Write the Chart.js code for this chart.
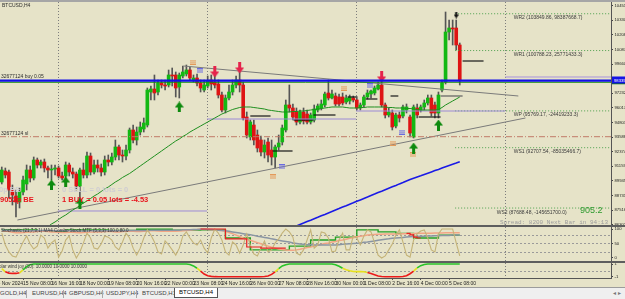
<!DOCTYPE html>
<html>
<head>
<meta charset="utf-8">
<title>BTCUSD,H4</title>
<script src="https://cdn.jsdelivr.net/npm/chart.js@4.4.1/dist/chart.umd.min.js"></script>
<style>
  html, body { margin:0; padding:0; overflow:hidden; width:625px; height:299px; background:#e6e3c8; }
  canvas { position:absolute; left:0; }
  #topbar { position:absolute; left:0; top:0; width:625px; height:2px; background:#a6a6a6; }
  .rule { position:absolute; left:0; width:625px; height:2px; background:#5e5e5e; }
  #tabs { position:absolute; left:0; top:287px; width:625px; height:12px; background:#efefef; border-top:1px solid #9c9c9c;
          font:6px "Liberation Sans", Arial, sans-serif; color:#444; }
  #tabs span { position:absolute; top:2px; white-space:nowrap; }
  #tabs b { position:absolute; top:2px; width:1px; height:8px; background:#a8a8a8; }
  #tabs .on { top:0; height:9px; padding:0 4px; background:#fff; border:1px solid #555; border-top:none; color:#000; line-height:9px; }
  #scroll { position:absolute; left:613px; top:289px; font:6px "DejaVu Sans", sans-serif; color:#777; letter-spacing:2px; }
</style>
</head>
<body>
<div id="topbar"></div>
<canvas id="main" width="660" height="224" style="top:2px"></canvas>
<canvas id="stoch" width="660" height="35" style="top:227px"></canvas>
<canvas id="solar" width="660" height="24" style="top:263px"></canvas>
<div class="rule" style="top:225px"></div>
<div class="rule" style="top:261px"></div>
<div id="tabs">
  <span style="left:0px">GOLD,H4</span><b style="left:26px"></b>
  <span style="left:32px">EURUSD,H4</span><b style="left:63px"></b>
  <span style="left:69px">GBPUSD,H4</span><b style="left:102px"></b>
  <span style="left:106px">USDJPY,H4</span><b style="left:136px"></b>
  <span style="left:142px">BTCUSD,H1</span>
  <span class="on" style="left:174px">BTCUSD,H4</span>
</div>
<div id="scroll">&#9666;&#9656;</div>
<script>
// H4 bars, bar 0 = 14 Nov 2024 08:00
const openP = [89855,90769,90686,89189,88690,88191,89023,89688,90852,90187,
  91684,91268,91518,91018,90852,90935,91018,90353,90353,91268,
  90686,90519,89522,90852,90436,92017,90686,91268,91018,90686,
  91684,91518,91934,92765,92100,92017,92516,94180,93348,94013,
  94262,94595,97341,97590,97341,98089,97923,97923,98755,98755,
  97757,98672,98838,99171,98339,98505,98089,97507,97840,98339,
  98173,98006,97091,95843,96842,97341,97923,98339,97923,95261,
  93597,94595,93763,93348,92350,93181,92516,91934,92765,93181,
  94180,96259,96010,95677,94845,95677,95510,94845,95011,95843,
  96010,96259,97258,96842,97008,96925,96925,96509,96592,96842,
  96675,96010,96259,96925,97174,97258,97590,97923,96259,95427,
  95594,94512,95427,95344,95843,95261,93597,96010,95843,96093,
  96426,96842,96259,95594,97507,98173,102331,102664,102664,101250];
const highP = [91102,91018,90852,89605,89189,89355,90353,91268,91185,91934,
  91850,91684,91767,91185,91268,91268,91185,90686,91518,91434,
  91018,90686,91018,91434,92350,92266,91684,91684,91351,92017,
  92100,92266,93348,92932,92516,92932,94346,94595,94429,94845,
  95178,97673,97840,98755,98339,98339,98339,99171,99337,99005,
  98921,99503,99586,99420,98755,98838,98339,98339,98672,98755,
  99005,98339,97341,97091,97923,98339,98672,99171,98173,95677,
  95011,95011,94180,93680,93348,93514,93348,92932,93763,94595,
  96675,97923,96342,96010,95843,96010,95843,95594,96259,96342,
  96675,97341,98339,97507,97258,97174,97258,97091,97091,97008,
  96842,96426,97091,97507,97507,97840,98173,98589,96426,96010,
  95843,95594,95677,96259,96342,95427,96259,96342,96259,96675,
  97091,97091,96509,97341,98339,103995,103329,103329,103329,101416];
const lowP = [89688,90187,88524,87941,86943,87691,88773,89189,89855,90021,
  91018,91018,90686,90187,90021,90436,90187,90021,90021,90353,
  90187,89189,88357,90187,90187,90436,90519,90686,90353,90436,
  91185,91268,91684,91684,91518,91684,92266,93098,92932,93763,
  94013,94429,96675,96675,97091,97673,97507,97757,97840,96925,
  96842,98505,98672,98339,98173,97840,97341,97341,97673,97507,
  97673,96842,95677,95594,96675,97091,97673,97341,95011,93514,
  93348,92932,92350,92017,91850,91518,91268,91018,92516,92932,
  94013,95677,95011,94595,94678,94678,94678,94678,94845,95677,
  95843,96093,96675,96758,96176,96176,96259,96342,96342,96509,
  95843,95843,96093,96758,96842,97091,97507,96093,95178,95261,
  94180,94346,94845,95178,95594,93597,93514,95178,95677,95843,
  96259,95344,95178,95178,97341,98006,101666,101250,100834,97923];
const closeP = [90852,90436,89189,88773,88191,89023,90021,90852,90187,91684,
  91268,91518,91018,90852,90935,91018,90353,90187,91268,90686,
  90519,89522,90852,90436,92017,90686,91268,91018,90686,91684,
  91518,91934,92765,92100,92017,92516,94180,93348,94013,94429,
  94762,97507,97590,97258,98089,97923,97840,98755,98672,97673,
  98755,99005,99171,98505,98505,98089,97673,97923,98256,98006,
  97923,97091,95843,96842,97341,97923,98339,97923,95178,93763,
  94845,93348,92682,92350,92932,92100,91934,92765,93098,94346,
  96259,96010,95261,94845,95677,94928,94845,95427,95926,96176,
  96342,97174,96842,97174,96342,96342,96426,96842,96925,96675,
  96010,96259,96925,97258,97424,97673,97923,96259,95427,95677,
  94429,95427,95178,96093,96093,93930,96093,95427,96093,96426,
  96842,95594,95594,97091,98089,102331,102664,102581,101250,98339];

const maGreenStart = 13;
const maGreen = [86136,86361,86527,86735,86943,87109,87317,87525,87692,87899,
  88107,88274,88482,88690,88856,89064,89272,89438,89646,89854,
  90021,90229,90395,90561,90769,90977,91185,91393,91601,91809,
  92017,92225,92433,92641,92849,93057,93265,93431,93639,93805,
  94013,94180,94346,94512,94679,94845,95011,95178,95344,95510,
  95635,95760,95885,95968,96051,96093,96093,96093,96051,96010,
  95968,95926,95843,95802,95760,95718,95677,95677,95677,95718,
  95718,95760,95760,95802,95843,95885,95926,95968,96010,96051,
  96093,96093,96093,96093,96051,96010,96010,96010,96051,96051,
  96093,96093,96093,96093,96093,96093,96051,96051,96010,96010,
  96010,95968,95968,95926,95885,95843,95843,95843,95843,95843,
  95885,96051,96259,96425,96592,96758,96925];
const maBlueStart = 82;
const maBlue = [86070,86194,86319,86436,86561,86677,86802,86918,87043,87159,87284,
  87401,87525,87642,87767,87883,88008,88124,88249,88366,88490,
  88607,88732,88848,88973,89089,89214,89331,89455,89572,89697,
  89813,89938,90054,90162,90270,90370,90478,90586,90695,90803,
  90902,91011,91119,91227,91335,91435,91543];

const stochK = [86,45,21,7,3,28,55,76,48,31, 41,79,69,34,52,62,3,24,62,76,
  28,0,21,52,86,69,34,31,48,76, 72,62,38,28,55,86,69,34,10,34,
  69,97,79,55,21,14,59,45,28,10, 34,76,90,69,52,45,62,34,17,69,
  100,86,62,21,10,55,45,17,45,83, 45,14,7,34,59,21,28,52,66,86,
  100,90,72,17,10,28,62,97,34,45, 90,86,69,21,24,62,86,28,28,76,
  69,45,76,97,90,52,10,0,7,28, 48,79,97,55,10,3,62,83,93,97,
  69,28,21,83,100,100,100,100,52,7];
const stochFast = [94,93,91,89,87,87,88,89,90,90, 91,92,92,91,90,90,89,88,88,89,
  89,88,87,88,89,90,90,90,90,91, 91,91,90,90,91,92,92,92,91,91,
  92,93,94,94,93,92,92,92,92,92, 93,94,95,96,97,98,100,99,98,97,
  96,96,95,92,88,84,79,74,69,65, 61,57,53,49,45,41,37,34,31,29,
  28,27,27,28,30,33,36,38,41,44, 47,50,52,55,57,60,62,65,68,70,
  73,75,77,79,80,81,82,82,83,83, 83,83,83,84,84,84,84,85,85,85,
  85,85,86,86,86,87,87,87,87,87];
const stochSlow = [96,96,95,95,94,94,94,94,94,94, 95,95,95,95,95,94,94,94,94,94,
  94,94,93,93,93,94,94,94,94,94, 94,94,94,94,94,95,95,95,95,95,
  95,95,96,96,96,96,96,96,96,96, 96,97,97,97,98,98,99,99,98,98,
  97,96,95,94,92,90,88,86,84,82, 80,78,75,73,71,69,66,64,61,59,
  57,55,52,50,48,47,46,46,45,45, 45,45,45,45,45,46,47,48,49,50,
  51,52,54,55,57,59,61,63,65,66, 68,69,70,71,72,73,74,74,75,75,
  76,76,77,77,78,78,78,79,79,79];
const stochStep = [97,97,97,97,97,97,97,97,97,97, 92,92,92,92,92,92,92,92,97,97,
  97,97,97,97,97,97,97,97,97,97, 95,95,95,95,95,95,95,95,99,99,
  99,99,99,99,99,99,99,99,96,96, 96,96,96,96,96,96,97,97,97,97,
  97,97,97,69,69,69,69,69,69,69, 28,28,28,28,28,28,28,28,28,28,
  28,41,41,41,41,41,41,62,62,62, 62,62,62,62,72,72,72,72,72,72,
  97,97,97,97,97,97,90,90,90,90, 90,85,85,85,85,85,69,69,69,69,
  69,69,69,79,79,79,79,79,79,79];
const stochRedAStart = 56;
const stochRedA = [100,100,100,100,100,100,100,66,66,66,66,66,66,38,38,38,38,34,34,34,34,34,34,34,34];
const stochRedBStart = 114;
const stochRedB = [85,80,72,69,69];

const solar = [0.3,-0.2,-0.4,-0.45,-0.45,-0.35,0.1,0.6,0.9,1, 1,1,1,1,1,1,1,1,1,1,
  1,1,1,1,1,1,1,1,1,1, 1,1,1,1,1,1,1,1,1,1, 1,1,1,1,1,1,1,1,1,1,
  1,1,1,0.92,0.7,0.35,-0.1,-0.55,-0.8,-0.9, -0.95,-0.97,-0.97,-0.97,-0.97,-0.97,-0.97,-0.97,-0.97,-0.97,
  -0.97,-0.97,-0.97,-0.97,-0.93,-0.85,-0.6,-0.2,0.3,0.7, 0.9,1,1,1,1,1,1,1,1,1,
  1,1,1,1,0.9,0.65,0.35,0.1,-0.05,-0.15, -0.18,-0.18,-0.2,-0.3,-0.45,-0.65,-0.85,-0.93,-0.97,-0.97,
  -0.97,-0.97,-0.97,-0.92,-0.8,-0.5,-0.1,0.4,0.75,0.92, 1,1,1,1,1,1,1,1,1,1];

const priceTicks = [86302,87516,88731,89945,91159,92374,93588,94803,96017,97232,98446,99660,100875,102089,103304,104518];
const stochTicks = [0,20,50,80,100];
const stochLevels = [20,50,80];
const solarTicks = [-1,0,1];
const xTickIdx = [-2,6,14,22,30,38,46,54,62,70,78,86,94,102,110,118,126];
const xTickText = ['14 Nov 2024','15 Nov 08:00','16 Nov 16:00','18 Nov 00:00','19 Nov 08:00','20 Nov 16:00',
  '22 Nov 00:00','23 Nov 08:00','24 Nov 16:00','26 Nov 00:00','27 Nov 08:00','28 Nov 16:00',
  '30 Nov 00:00','1 Dec 08:00','2 Dec 16:00','4 Dec 00:00','5 Dec 08:00'];
const weekSep = [15.8,57.8,99.8,141.8];

// levels and objects on the price chart
const ticket = '32677124';
const posPrice = 98290, bidPrice = 98150, slPrice = 93622, wpUpper = 98589;
const pivotNames = ['WR2','WR1','WP','WS1','WS2'];
const pivotVals = [103849.86,100788.23,95769.17,92707.54,87688.48];
const pivotAux = ['98387668.7','25771433.3','-24419233.3','-85035466.7','-145651700.0'];
const pivotFrom = 127.7, pivotLabelAt = 144.2;
const weekPivot = [87442,95094,95760];
const trendA = [[4.4,86693],[147.5,95178]];
const trendB = [[51.2,99503],[145.5,97008]];
const boxLines = [[70,75.7,95344],[76.3,81.9,92433],[82.2,87.8,95011],[87.8,94,95427],[97.4,100.2,96925],
  [102.5,105.8,96758],[109.5,111.7,97008],[117.4,123.6,95261],[129.8,135.7,99919]];
const greyBox = [[123.6,129.8,97008]];
const upArrows = [[14,89605],[18,89855],[22,88107],[50,96093],[116,92682],[123,94595]];
const downArrows = [[60,99005],[67,99337],[107,98589]];
const blackArrows = [[128,103745]];
const orangeMarks = [[54,99836],[96.3,97673],[110.3,93098],[76.5,90270],[115.7,92100]];
const blueMarks = [[55.7,99088],[103.6,97840],[112.6,94013],[78.8,91102]];

const N = closeP.length;
const xMin = -0.5, xMax = 171.6;
const AXW = 49;
Chart.defaults.font.family = '"Liberation Sans", Arial, sans-serif';

function pts(arr, start) { return arr.map((v, k) => ({ x: start + k, y: v })); }
function seg(x0, x1, y) { return [{ x: x0, y: y }, { x: x1, y: y }]; }
function lineDs(data, color, width, extra) {
  return Object.assign({ type: 'line', data: data, borderColor: color, borderWidth: width, pointRadius: 0,
    pointHitRadius: 0, tension: 0, fill: false, order: 1 }, extra || {});
}
function arrowImg(color, down, w, h) {
  const c = document.createElement('canvas'); c.width = w; c.height = h;
  const g = c.getContext('2d');
  if (down) { g.translate(0, h); g.scale(1, -1); }
  const hh = Math.round(h * 0.5), sw = Math.max(1, Math.round(w / 3));
  g.fillStyle = color; g.beginPath();
  g.moveTo(w / 2, 0); g.lineTo(w, hh); g.lineTo((w + sw) / 2, hh); g.lineTo((w + sw) / 2, h);
  g.lineTo((w - sw) / 2, h); g.lineTo((w - sw) / 2, hh); g.lineTo(0, hh); g.closePath(); g.fill();
  return c;
}
function markImg(color) {
  const c = document.createElement('canvas'); c.width = 6; c.height = 5;
  const g = c.getContext('2d'); g.fillStyle = color;
  g.fillRect(0, 0, 6, 1); g.fillRect(0, 2, 6, 1); g.fillRect(0, 4, 6, 1);
  return c;
}
function fitY(s) { s.width = AXW; s.paddingTop = 0; s.paddingBottom = 0; }
const xHidden = { type: 'linear', min: xMin, max: xMax, offset: false, display: false };

function separators(id) {
  return { id: id, beforeDatasetsDraw(c) {
    const { ctx, chartArea: a, scales: { x } } = c;
    ctx.save(); ctx.strokeStyle = '#7d7d7d'; ctx.lineWidth = 1; ctx.setLineDash([1, 2]);
    weekSep.forEach(v => { const px = Math.round(x.getPixelForValue(v)) + 0.5;
      ctx.beginPath(); ctx.moveTo(px, a.top); ctx.lineTo(px, a.bottom); ctx.stroke(); });
    ctx.restore();
  } };
}
function levels(id, vals) {
  return { id: id, beforeDatasetsDraw(c) {
    const { ctx, chartArea: a, scales: { y } } = c;
    ctx.save(); ctx.strokeStyle = '#9a9a9a'; ctx.lineWidth = 1; ctx.setLineDash([2, 2]);
    vals.forEach(v => { const py = Math.round(y.getPixelForValue(v)) + 0.5;
      ctx.beginPath(); ctx.moveTo(a.left, py); ctx.lineTo(a.right, py); ctx.stroke(); });
    ctx.restore();
  } };
}

const mainText = {
  id: 'mainText',
  afterDatasetsDraw(c) {
    const { ctx, chartArea: a, scales: { x, y } } = c;
    ctx.save();
    ctx.font = '5px "Liberation Sans", Arial'; ctx.fillStyle = '#2c2c2c'; ctx.textBaseline = 'alphabetic';
    ctx.fillText('BTCUSD,H4', 2, 5);
    ctx.fillText(ticket + ' buy 0.05', 1, y.getPixelForValue(posPrice) - 2.5);
    ctx.fillText(ticket + ' sl', 1, y.getPixelForValue(slPrice) - 2);
    ctx.fillStyle = '#3a3a3a';
    pivotNames.forEach((n, k) => {
      const px = x.getPixelForValue(n === 'WS2' ? pivotLabelAt - 4.8 : pivotLabelAt);
      ctx.fillText(n + ' (' + pivotVals[k].toFixed(2) + ', ' + pivotAux[k] + ')', px, y.getPixelForValue(pivotVals[k]) + 5.5);
    });
    ctx.font = 'bold 7.5px "Liberation Sans", Arial';
    ctx.fillStyle = '#cfcdd2';
    ctx.fillText('0p BE', -1, 190);
    ctx.fillText('0 SELL = 0 lots = 0', 62, 190);
    ctx.fillStyle = '#e8141c';
    ctx.fillText('9052p BE', 0, 199.5);
    ctx.fillText('1 BUY = 0.05 lots = -4.53', 62, 199.5);
    ctx.font = '9px "Liberation Sans", Arial'; ctx.fillStyle = '#2e9a2e';
    ctx.fillText('905.2', 580, 210.5);
    ctx.font = '6px "Liberation Mono", monospace'; ctx.fillStyle = '#9c9c9c';
    ctx.fillText('Spread: 8200 Next Bar in 94:13', 500, 222);
    ctx.restore();
  },
  afterDraw(c) {
    const { ctx, chartArea: a, scales: { y } } = c;
    ctx.save();
    const yb = y.getPixelForValue(bidPrice);
    ctx.fillStyle = '#0b7a0b'; ctx.fillRect(a.right + 1, yb - 1, AXW, 3);
    const yp = y.getPixelForValue(closeP[N - 1]);
    ctx.fillStyle = '#1414e6'; ctx.fillRect(a.right + 1, yp - 3.5, AXW, 7);
    ctx.fillStyle = '#ffffff'; ctx.font = '4.2px "Liberation Sans", Arial'; ctx.textBaseline = 'middle';
    ctx.fillText(closeP[N - 1].toFixed(2), a.right + 3, yp + 0.5);
    ctx.restore();
  }
};

const candleUp = '#13b813', candleDown = '#de1414';
const mainSets = [
  lineDs(pts(maGreen, maGreenStart), '#1e8f1e', 1),
  lineDs(pts(maBlue, maBlueStart), '#1a1ae6', 1.6),
  lineDs(seg(xMin, xMax, posPrice), '#1010e8', 2.2, { order: 0 }),
  lineDs(seg(xMin, xMax, bidPrice), '#148a14', 1, { order: 0 }),
  lineDs(seg(xMin, xMax, slPrice), '#c07a68', 1, { borderDash: [6, 2, 1, 2] }),
  lineDs(seg(141.8, xMax, wpUpper), '#a793dc', 1),
  lineDs(seg(15.8, 57.8, weekPivot[0]), '#9c8ad6', 1),
  lineDs(seg(57.8, 99.8, weekPivot[1]), '#9c8ad6', 1),
  lineDs(seg(99.8, 141.8, weekPivot[2]), '#9c8ad6', 1),
  lineDs(trendA.map(p => ({ x: p[0], y: p[1] })), '#7a7a7a', 1),
  lineDs(trendB.map(p => ({ x: p[0], y: p[1] })), '#7a7a7a', 1)
];
pivotVals.forEach(v => mainSets.push(lineDs(seg(pivotFrom, xMax, v), '#4da04d', 1, { borderDash: [1, 2] })));
boxLines.forEach(b => mainSets.push(lineDs(seg(b[0], b[1], b[2]), '#161616', 1.2)));
greyBox.forEach(b => mainSets.push(lineDs(seg(b[0], b[1], b[2]), '#5e5e5e', 1.2)));
mainSets.push({ type: 'scatter', data: upArrows.map(p => ({ x: p[0], y: p[1] })), pointStyle: arrowImg('#0e8a0e', false, 9, 11), order: 0 });
mainSets.push({ type: 'scatter', data: downArrows.map(p => ({ x: p[0], y: p[1] })), pointStyle: arrowImg('#e5234b', true, 9, 11), order: 0 });
mainSets.push({ type: 'scatter', data: blackArrows.map(p => ({ x: p[0], y: p[1] })), pointStyle: arrowImg('#111111', true, 5, 7), order: 0 });
mainSets.push({ type: 'scatter', data: orangeMarks.map(p => ({ x: p[0], y: p[1] })), pointStyle: markImg('#e49a5a'), order: 0 });
mainSets.push({ type: 'scatter', data: blueMarks.map(p => ({ x: p[0], y: p[1] })), pointStyle: markImg('#6a6ae0'), order: 0 });
mainSets.push({ type: 'bar', data: lowP.map((l, i) => ({ x: i, y: [l, highP[i]] })), backgroundColor: '#555555',
  barThickness: 1, grouped: false, order: 3 });
mainSets.push({ type: 'bar', data: openP.map((o, i) => ({ x: i, y: [o, closeP[i]] })),
  backgroundColor: openP.map((o, i) => closeP[i] >= o ? candleUp : candleDown),
  barThickness: 3, minBarLength: 1, grouped: false, order: 2 });

new Chart(document.getElementById('main'), {
  type: 'bar',
  data: { datasets: mainSets },
  options: {
    responsive: false, animation: false, devicePixelRatio: 1,
    layout: { padding: 0, autoPadding: false },
    plugins: { legend: { display: false }, tooltip: { enabled: false } },
    scales: {
      x: xHidden,
      y: { position: 'right', min: 86194, max: 104827, afterFit: fitY,
        afterBuildTicks: s => { s.ticks = priceTicks.map(v => ({ value: v })); },
        ticks: { font: { size: 4.2 }, color: '#222', padding: 1.5, callback: v => v.toFixed(2) },
        grid: { drawOnChartArea: false, tickLength: 2, color: '#444' },
        border: { display: true, color: '#555' } }
    }
  },
  plugins: [separators('sepMain'), mainText]
});

new Chart(document.getElementById('stoch'), {
  type: 'line',
  data: { datasets: [
    lineDs(pts(stochK, 0), '#c4b377', 1.1),
    lineDs(pts(stochSlow, 0), '#8a95a2', 1.5),
    lineDs(pts(stochFast, 0), '#f2a584', 1.5),
    lineDs(pts(stochStep, 0), '#24a024', 1.4, { stepped: true }),
    lineDs(pts(stochRedA, stochRedAStart), '#e82020', 1.2, { stepped: true, order: 0 }),
    lineDs(pts(stochRedB, stochRedBStart), '#e82020', 1.2, { stepped: true, order: 0 })
  ] },
  options: {
    responsive: false, animation: false, devicePixelRatio: 1,
    layout: { padding: 0, autoPadding: false },
    plugins: { legend: { display: false }, tooltip: { enabled: false } },
    scales: {
      x: xHidden,
      y: { position: 'right', min: -13.8, max: 106.9, afterFit: fitY,
        afterBuildTicks: s => { s.ticks = stochTicks.map(v => ({ value: v })); },
        ticks: { font: { size: 4.2 }, color: '#222', padding: 1.5 },
        grid: { drawOnChartArea: false, tickLength: 2, color: '#444' },
        border: { display: true, color: '#555' } }
    }
  },
  plugins: [separators('sepStoch'), levels('lvStoch', stochLevels), { id: 'stLabel', afterDatasetsDraw(c) {
    const ctx = c.ctx; ctx.save(); ctx.font = '4.5px "Liberation Sans", Arial'; ctx.fillStyle = '#333';
    ctx.fillText('Stochastic (21,7,3,1) MA4 Combo Stoch MTF (5,3,3) 100.0 80.0', 1, 5); ctx.restore(); } }]
});

new Chart(document.getElementById('solar'), {
  type: 'line',
  data: { datasets: [
    lineDs(pts(solar, 0), '#22c022', 1.6, { segment: { borderColor: s => {
      const v = (s.p0.parsed.y + s.p1.parsed.y) / 2;
      return v > 0.25 ? '#28c428' : (v < -0.25 ? '#ec1a1a' : '#e6e01e'); } } })
  ] },
  options: {
    responsive: false, animation: false, devicePixelRatio: 1,
    layout: { padding: 0, autoPadding: false },
    plugins: { legend: { display: false }, tooltip: { enabled: false } },
    scales: {
      x: { type: 'linear', min: xMin, max: xMax, offset: false, position: 'bottom',
        afterBuildTicks: s => { s.ticks = xTickIdx.map(v => ({ value: v })); },
        afterFit: s => { s.height = 9; s.paddingLeft = 0; s.paddingRight = 0; },
        ticks: { autoSkip: false, maxRotation: 0, minRotation: 0, align: 'start', padding: 1,
          font: { size: 5 }, color: '#1e1e1e', callback: (v, i) => xTickText[i] },
        grid: { drawOnChartArea: false, tickLength: 2, color: '#555' },
        border: { display: true, color: '#555' } },
      y: { position: 'right', min: -1.154, max: 1.154, afterFit: fitY,
        afterBuildTicks: s => { s.ticks = solarTicks.map(v => ({ value: v })); },
        ticks: { font: { size: 4.2 }, color: '#222', padding: 1.5, callback: v => v === 0 ? '0.00' : String(v) },
        grid: { drawOnChartArea: false, tickLength: 2, color: '#444' },
        border: { display: true, color: '#555' } }
    }
  },
  plugins: [separators('sepSolar'), levels('lvSolar', [0]), { id: 'swLabel', afterDatasetsDraw(c) {
    const ctx = c.ctx; ctx.save(); ctx.font = '4.5px "Liberation Sans", Arial'; ctx.fillStyle = '#333';
    ctx.fillText('Solar wind joy (10): 10.0000 10.0000 10.0000', -4, 5); ctx.restore(); } }]
});
</script>
</body>
</html>
